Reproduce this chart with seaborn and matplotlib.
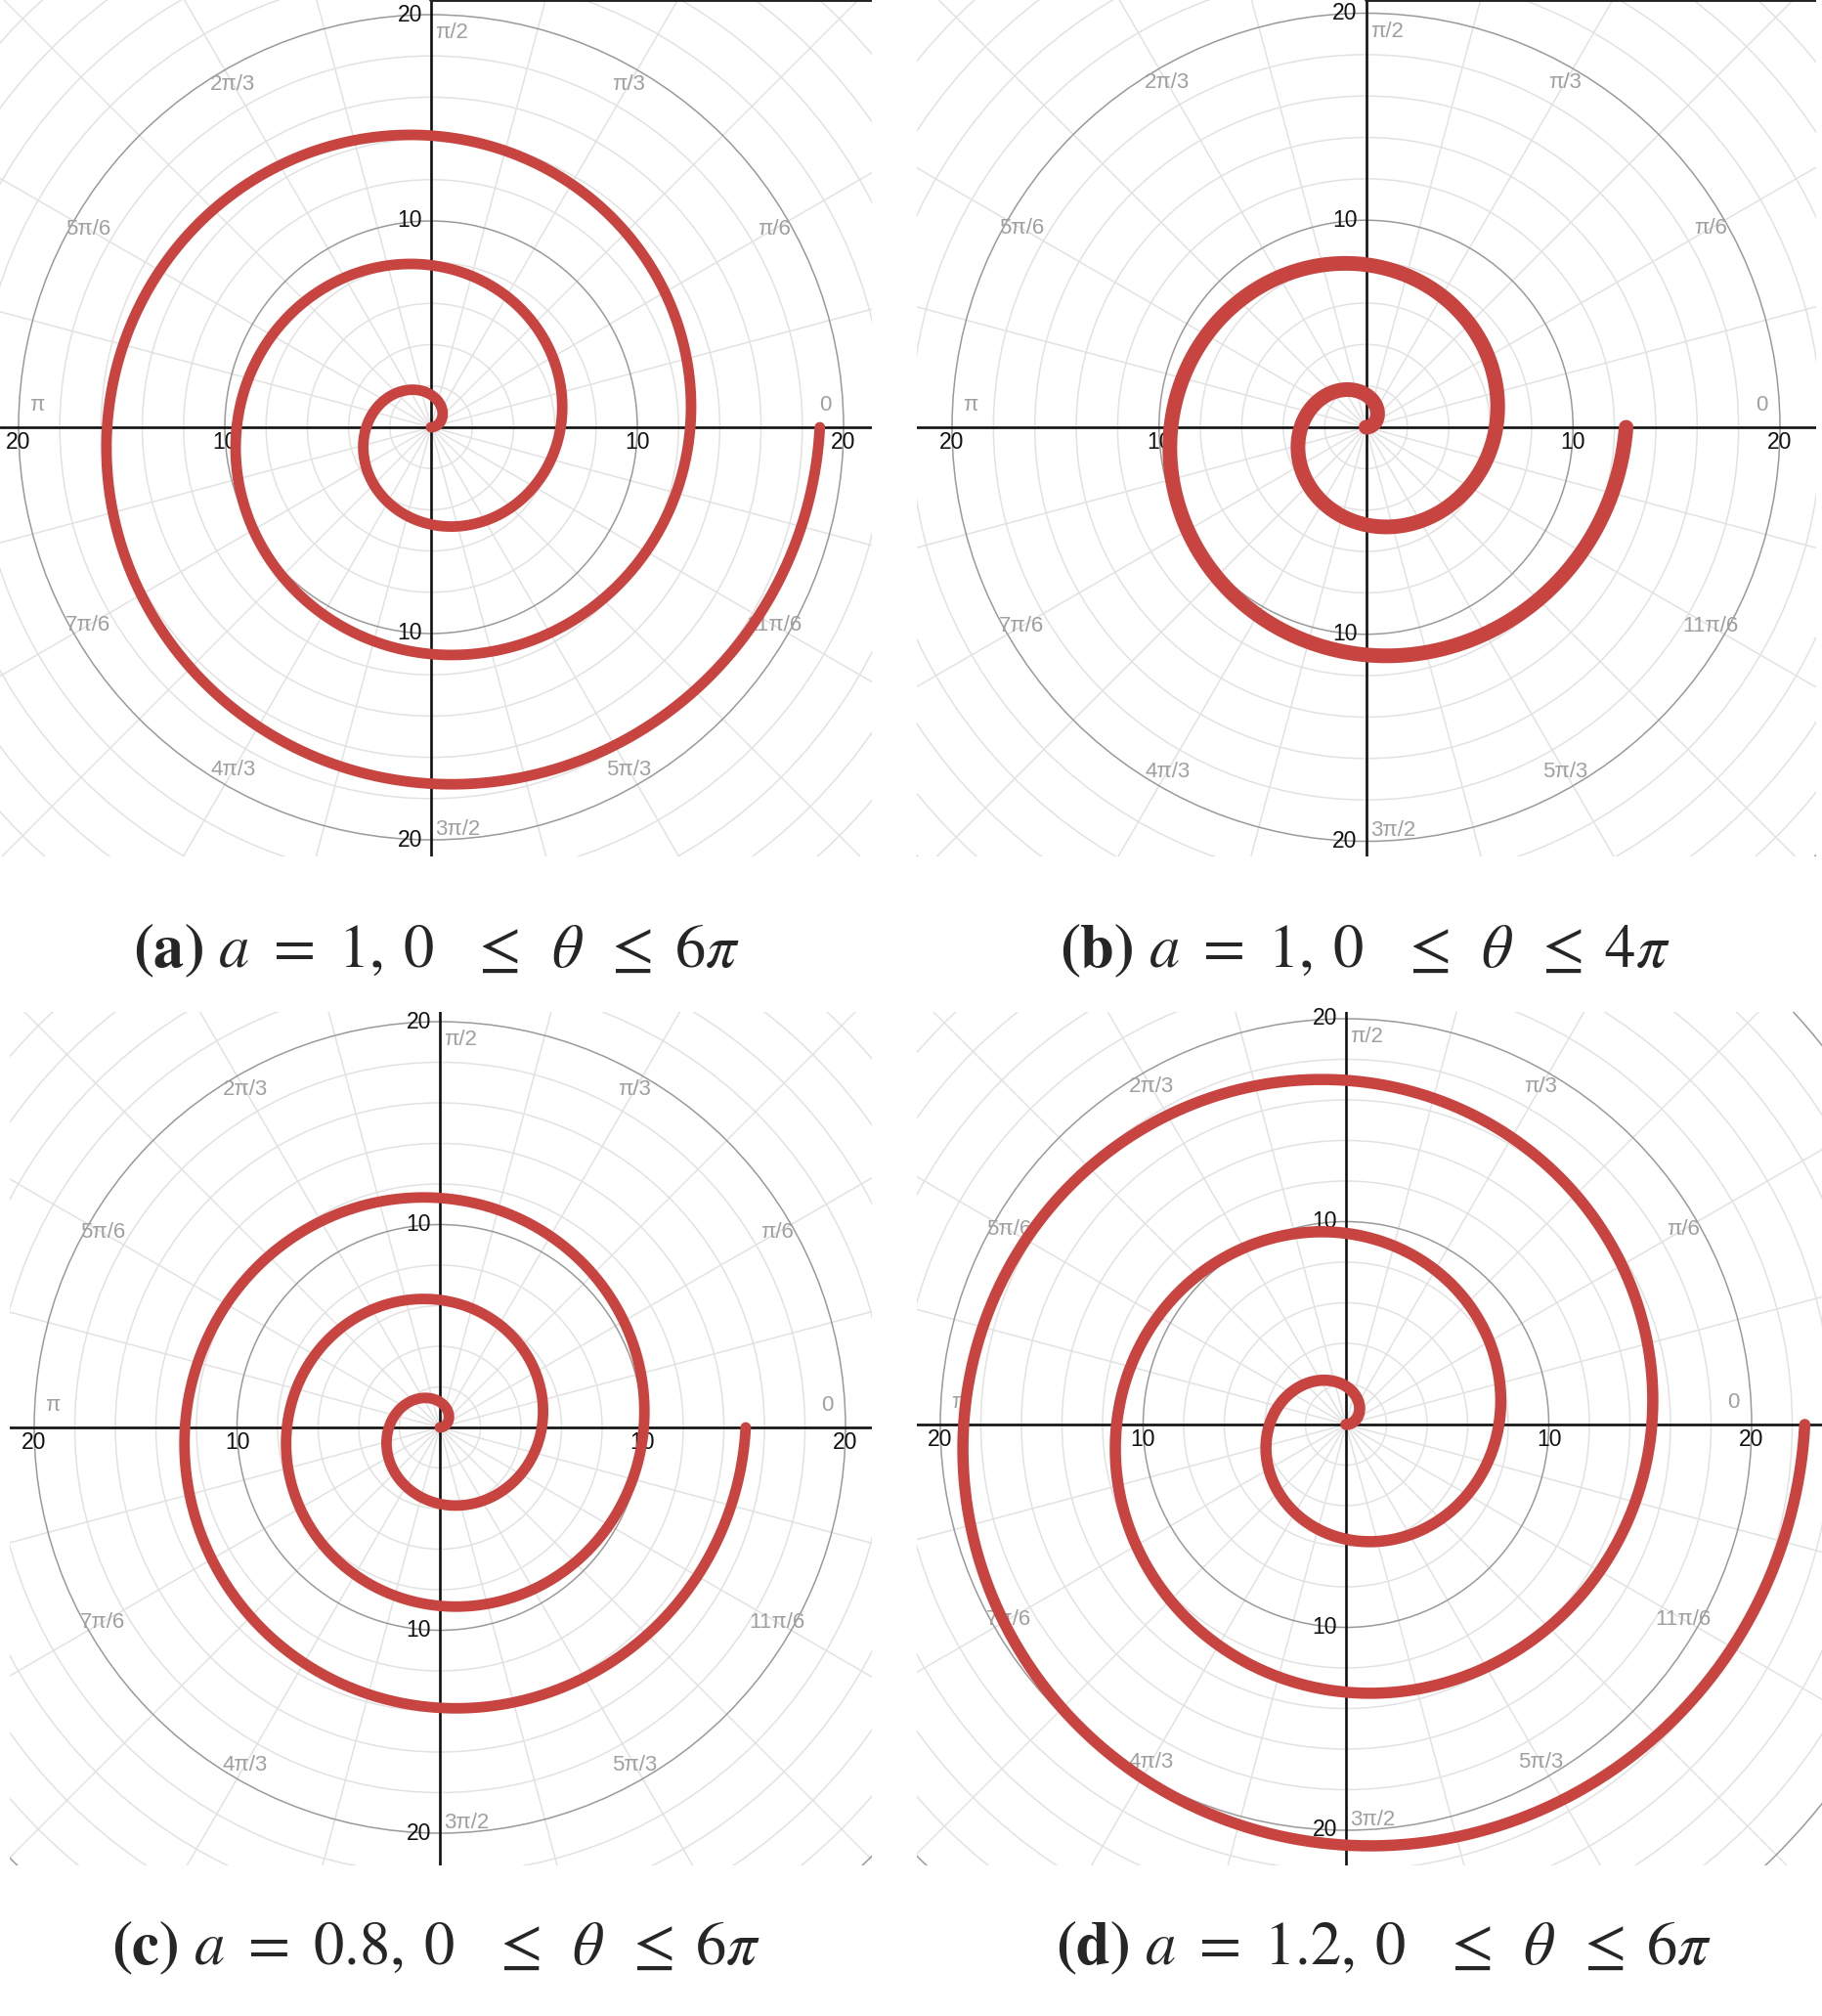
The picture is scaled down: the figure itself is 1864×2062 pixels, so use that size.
import numpy as np
import pandas as pd
import seaborn as sns
import matplotlib.pyplot as plt
from matplotlib.patches import Circle

# Archimedean spirals r = a*theta, one per panel
letters = ['a', 'b', 'c', 'd']
a_values = [1.0, 1.0, 0.8, 1.2]
a_labels = ['1', '1', '0.8', '1.2']
theta_max_pi = [6, 4, 6, 6]   # upper bound of theta in multiples of pi

angle_labels = ['0', 'π/6', 'π/3', 'π/2', '2π/3', '5π/6', 'π',
                '7π/6', '4π/3', '3π/2', '5π/3', '11π/6']
radius_ticks = [10, 20]

sns.set_style('white')
plt.rcParams['font.family'] = ['Liberation Sans', 'DejaVu Sans']
plt.rcParams['mathtext.fontset'] = 'stix'

W, H = 1864, 2062
fig = plt.figure(figsize=(W / 100, H / 100), dpi=100)

# panel boxes in pixels: left, top, right, bottom, centre x, centre y, px for r=20
boxes = [(0, 0, 892, 876, 441, 437, 422),
         (938, 0, 1858, 876, 1397.5, 437, 423.5),
         (10, 1035, 892, 1908, 450, 1460, 415),
         (938, 1035, 1864, 1908, 1377, 1457, 415)]
cap_pos = [(447, 973), (1396, 973), (446, 1993), (1416, 1993)]
line_w = [7.8, 10.8, 7.8, 8.3]
top_line = [True, True, False, False]

red = '#c74440'
minor_c = '#e2e2e2'
major_c = '#9a9a9a'

for i in range(4):
    l, t, r, b, cx, cy, R = boxes[i]
    ax = fig.add_axes([l / W, 1 - b / H, (r - l) / W, (b - t) / H])
    s = R / 20
    xlim = ((l - cx) / s, (r - cx) / s)
    ylim = (-(b - cy) / s, (cy - t) / s)

    # polar grid
    for rr in range(2, 40, 2):
        major = rr % 10 == 0
        ax.add_patch(Circle((0, 0), rr, fill=False, lw=1.1,
                            ec=major_c if major else minor_c,
                            zorder=1 if major else 0.5))
    for k in range(24):
        ang = k * np.pi / 12
        ax.plot([0, 45 * np.cos(ang)], [0, 45 * np.sin(ang)],
                color=minor_c, lw=1.1, zorder=0.5)

    ax.axhline(0, color='#111111', lw=1.9, zorder=2)
    ax.axvline(0, color='#111111', lw=1.9, zorder=2)
    if top_line[i]:
        ax.plot([0, xlim[1]], [ylim[1], ylim[1]], color='#222222', lw=2.8, zorder=2)

    # radius labels
    for rt in radius_ticks:
        for sgn in (1, -1):
            ax.annotate(str(rt), (sgn * rt, 0), xytext=(0, -11),
                        textcoords='offset points', ha='center', va='center',
                        fontsize=16.5, color='#111111', zorder=3)
            ax.annotate(str(rt), (0, sgn * rt), xytext=(-6.5, 0),
                        textcoords='offset points', ha='right', va='center',
                        fontsize=16.5, color='#111111', zorder=3)

    # angle labels
    for k, lab in enumerate(angle_labels):
        ang = k * np.pi / 6
        if k in (0, 6):
            pos, off, ha = (19.1 * np.cos(ang), 0), (0, 16), 'center'
        elif k == 3:
            pos, off, ha = (0, 19.1), (3, 0), 'left'
        elif k == 9:
            pos, off, ha = (0, -19.5), (3, 0), 'left'
        else:
            pos, off, ha = (19.2 * np.cos(ang), 19.2 * np.sin(ang)), (0, 0), 'center'
        ax.annotate(lab, pos, xytext=off, textcoords='offset points',
                    ha=ha, va='center', fontsize=16, color='#a0a0a0', zorder=3)

    # the spiral
    theta = np.linspace(0, theta_max_pi[i] * np.pi, 3000)
    rad = a_values[i] * theta
    df = pd.DataFrame({'x': rad * np.cos(theta), 'y': rad * np.sin(theta)})
    sns.lineplot(data=df, x='x', y='y', sort=False, estimator=None, color=red,
                 lw=line_w[i], solid_capstyle='round', ax=ax, zorder=5)

    ax.set_xlim(*xlim)
    ax.set_ylim(*ylim)
    ax.set_axis_off()

    tm = '' if theta_max_pi[i] == 1 else str(theta_max_pi[i])
    caption = (r'$\mathbf{(' + letters[i] + r')}\ a\ =\ ' + a_labels[i]
               + r',\:0\ \ \,\leq\ \,\theta\ \,\leq\;' + tm + r'\pi$')
    x, y = cap_pos[i]
    fig.text(x / W, 1 - y / H, caption, fontsize=45, ha='center', va='center')

fig.savefig('out.png', dpi=100, facecolor='white')
